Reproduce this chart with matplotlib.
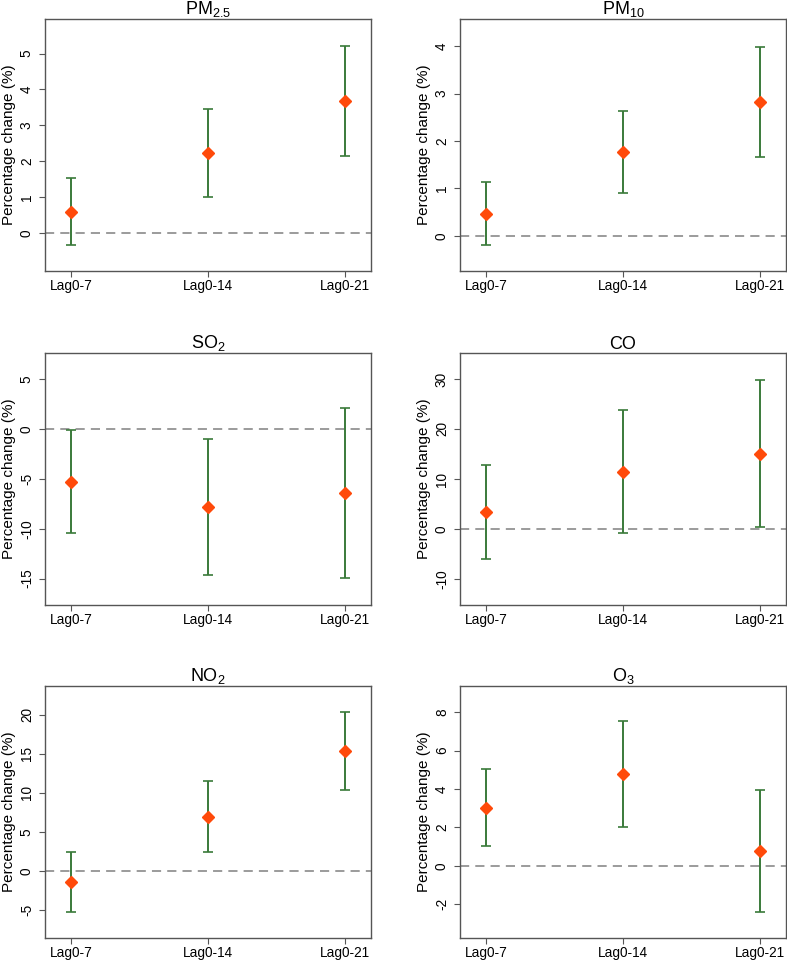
import numpy as np
import matplotlib
matplotlib.use("Agg")
import matplotlib.pyplot as plt

plt.rcParams['font.family'] = ['Liberation Sans', 'DejaVu Sans']
plt.rcParams['mathtext.fontset'] = 'custom'
plt.rcParams['mathtext.rm'] = 'Liberation Sans'

lags = ['Lag0-7', 'Lag0-14', 'Lag0-21']

# pollutant titles
titles = [r'PM$_{\mathrm{2.5}}$', r'PM$_{\mathrm{10}}$', r'SO$_{\mathrm{2}}$', 'CO',
          r'NO$_{\mathrm{2}}$', r'O$_{\mathrm{3}}$']

# point estimates and 95% CI (percentage change)
pm25_est = [0.60, 2.24, 3.68]
pm25_lo = [-0.33, 1.02, 2.15]
pm25_hi = [1.55, 3.46, 5.22]

pm10_est = [0.47, 1.76, 2.82]
pm10_lo = [-0.20, 0.90, 1.66]
pm10_hi = [1.14, 2.63, 3.99]

so2_est = [-5.30, -7.82, -6.41]
so2_lo = [-10.47, -14.60, -14.90]
so2_hi = [-0.13, -1.00, 2.08]

co_est = [3.47, 11.42, 15.10]
co_lo = [-5.95, -0.87, 0.47]
co_hi = [12.90, 23.85, 29.73]

no2_est = [-1.41, 6.92, 15.34]
no2_lo = [-5.21, 2.39, 10.38]
no2_hi = [2.44, 11.50, 20.34]

o3_est = [3.02, 4.76, 0.80]
o3_lo = [1.04, 2.00, -2.38]
o3_hi = [5.03, 7.53, 3.96]

ests = [pm25_est, pm10_est, so2_est, co_est, no2_est, o3_est]
los = [pm25_lo, pm10_lo, so2_lo, co_lo, no2_lo, o3_lo]
his = [pm25_hi, pm10_hi, so2_hi, co_hi, no2_hi, o3_hi]

ylims = [(-1.05, 5.96), (-0.74, 4.57), (-17.65, 7.65),
         (-15.2, 35.2), (-8.59, 23.68), (-3.75, 9.36)]
yticks = [[0, 1, 2, 3, 4, 5], [0, 1, 2, 3, 4], [-15, -10, -5, 0, 5],
          [-10, 0, 10, 20, 30], [-5, 0, 5, 10, 15, 20], [-2, 0, 2, 4, 6, 8]]

W, H = 787, 960
fig = plt.figure(figsize=(W / 100, H / 100), dpi=100)

lefts = [45, 460]
tops = [19, 353, 686]
aw, ah = 326, 252

x = np.arange(1, 4)
green = '#3a7a3a'
frame = '#555555'

for i in range(6):
    r, c = divmod(i, 2)
    ax = fig.add_axes([lefts[c] / W, 1 - (tops[r] + ah) / H, aw / W, ah / H])
    est = np.array(ests[i])
    lo = np.array(los[i])
    hi = np.array(his[i])
    ax.axhline(0, color='#808080', linestyle=(0, (6, 4)), linewidth=1.1, zorder=1)
    ax.errorbar(x, est, yerr=[est - lo, hi - est], fmt='none', ecolor=green,
                elinewidth=1.4, capsize=3.5, capthick=1.2, zorder=2)
    ax.plot(x, est, linestyle='none', marker='D', markersize=6.5,
            color='#ff4a0a', zorder=3)
    ax.set_xlim(0.81, 3.19)
    ax.set_ylim(*ylims[i])
    ax.set_xticks(x)
    ax.set_xticklabels(lags, fontsize=9.8)
    ax.set_yticks(yticks[i])
    ax.set_yticklabels([str(t) for t in yticks[i]], fontsize=9.8,
                       rotation=90, va='center')
    ax.tick_params(direction='out', length=4, width=0.8, color=frame)
    ax.tick_params(axis='x', pad=2)
    ax.tick_params(axis='y', pad=4)
    for s in ax.spines.values():
        s.set_color(frame)
        s.set_linewidth(1.0)
    ax.set_ylabel('Percentage change (%)', fontsize=11)
    ax.yaxis.set_label_coords(-29 / aw, 0.5)
    ax.set_title(titles[i], fontsize=13, pad=3)

fig.savefig('out.png', dpi=100)
